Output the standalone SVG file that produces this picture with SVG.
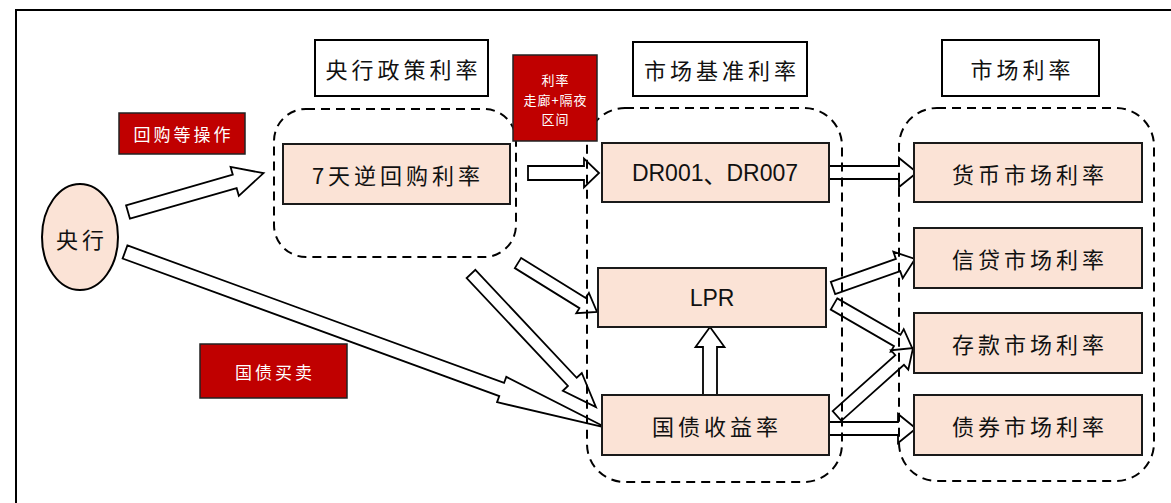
<svg xmlns="http://www.w3.org/2000/svg" width="1171" height="503" viewBox="0 0 1171 503">
<style>
.frame{fill:none;stroke:#000;stroke-width:2}
.title{fill:#fff;stroke:#000;stroke-width:2}
.peach{fill:#FBE3D6;stroke:#1a1a1a;stroke-width:2}
.red{fill:#C00000;stroke:#222;stroke-width:1.5}
.dash{fill:none;stroke:#000;stroke-width:2;stroke-dasharray:9 6}
.arr{fill:#fff;stroke:#000;stroke-width:1.8;stroke-linejoin:miter}
.cn{font-family:"Noto Sans CJK SC","Noto Sans",sans-serif;fill:#111;text-anchor:middle;dominant-baseline:central}
.t22{font-size:22px;letter-spacing:4px}
.w17{font-size:17px;letter-spacing:3px;fill:#fff}
.w13{font-size:13px;letter-spacing:1px;fill:#fff}
.lat{font-family:"Liberation Sans",Arial,sans-serif;font-size:23px;fill:#111;text-anchor:middle;dominant-baseline:central}
</style>
<rect x="0" y="0" width="1171" height="503" fill="#fff"/>
<rect class="frame" x="16" y="10" width="1200" height="600"/>

<g id="connectors">
  <polygon class="arr" transform="translate(128,212) rotate(-16)" points="0,-7 111,-7 111,-15 141,0 111,15 111,7 0,7"/>
  <polygon class="arr" transform="translate(528,173)" points="0,-7 56,-7 56,-14.5 71,0 56,14.5 56,7 0,7"/>
  <polygon class="arr" transform="translate(829,172.5)" points="0,-6.5 70,-6.5 70,-14.5 88,0 70,14.5 70,6.5 0,6.5"/>
  <polygon class="arr" transform="translate(518,263) rotate(31.8)" points="0,-6 76,-6 76,-12 93,0 76,12 76,6 0,6"/>
  <polygon class="arr" transform="translate(471,274) rotate(46.8)" points="0,-6 148,-6 148,-13 182.5,0 148,13 148,6 0,6"/>
  <polygon class="arr" transform="translate(125,252) rotate(20.06)" points="0,-7 401,-7 401,-13.5 513,0 401,13.5 401,7 0,7"/>
  <polygon class="arr" transform="translate(710,395) rotate(-90)" points="0,-7 48,-7 48,-14.5 68,0 48,14.5 48,7 0,7"/>
  <polygon class="arr" transform="translate(833,288) rotate(-19.5)" points="0,-6.5 69,-6.5 69,-14 87,0 69,14 69,6.5 0,6.5"/>
  <polygon class="arr" transform="translate(834,304) rotate(30)" points="0,-6.5 73,-6.5 73,-13 91,0 73,13 73,6.5 0,6.5"/>
  <polygon class="arr" transform="translate(837,416) rotate(-41.8)" points="0,-6.5 84,-6.5 84,-13 102,0 84,13 84,6.5 0,6.5"/>
  <polygon class="arr" transform="translate(829,428.5)" points="0,-6.5 69,-6.5 69,-14.5 87,0 69,14.5 69,6.5 0,6.5"/>
</g>

<g id="group-policy"><rect class="dash" x="274" y="109" width="242" height="148" rx="32"/></g>
<g id="group-benchmark"><rect class="dash" x="587" y="108" width="255" height="374" rx="38"/></g>
<g id="group-market"><rect class="dash" x="899" y="108" width="255" height="373" rx="38"/></g>

<g id="title-policy"><rect class="title" x="315" y="40" width="173" height="56"/><text class="cn t22" x="403.5" y="68">央行政策利率</text></g>
<g id="title-benchmark"><rect class="title" x="633" y="42" width="174" height="54"/><text class="cn t22" x="722" y="69">市场基准利率</text></g>
<g id="title-market"><rect class="title" x="942" y="40" width="157" height="56"/><text class="cn t22" x="1022.5" y="68">市场利率</text></g>

<g id="label-repo"><rect class="red" x="119" y="113" width="126" height="41"/><text class="cn w17" x="183.5" y="133.5">回购等操作</text></g>
<g id="label-corridor"><rect class="red" x="513" y="55" width="84" height="86"/>
  <text class="cn w13" x="555.5" y="79">利率</text>
  <text class="cn w13" x="555.5" y="99">走廊+隔夜</text>
  <text class="cn w13" x="555.5" y="118">区间</text></g>
<g id="label-bond-trade"><rect class="red" x="200" y="344" width="147" height="54"/><text class="cn w17" x="275" y="371">国债买卖</text></g>

<g id="node-pboc"><ellipse cx="80" cy="237" rx="38" ry="53" fill="#FBE3D6" stroke="#000" stroke-width="2"/><text class="cn t22" x="82" y="238">央行</text></g>

<g id="node-repo7d"><rect class="peach" x="283" y="144" width="227" height="60"/><text class="cn t22" x="398" y="174">7天逆回购利率</text></g>
<g id="node-dr"><rect class="peach" x="602" y="143" width="227" height="59"/><text class="lat" x="715" y="173">DR001<tspan font-family="Noto Sans CJK SC">、</tspan>DR007</text></g>
<g id="node-lpr"><rect class="peach" x="598" y="268" width="228" height="59"/><text class="lat" x="712" y="298">LPR</text></g>
<g id="node-gov-yield"><rect class="peach" x="602" y="395" width="227" height="60"/><text class="cn t22" x="717" y="425">国债收益率</text></g>

<g id="node-money"><rect class="peach" x="914" y="143" width="228" height="59"/><text class="cn t22" x="1030" y="173">货币市场利率</text></g>
<g id="node-credit"><rect class="peach" x="914" y="228" width="228" height="60"/><text class="cn t22" x="1030" y="258">信贷市场利率</text></g>
<g id="node-deposit"><rect class="peach" x="914" y="313" width="228" height="60"/><text class="cn t22" x="1030" y="343">存款市场利率</text></g>
<g id="node-bond"><rect class="peach" x="914" y="395" width="228" height="60"/><text class="cn t22" x="1030" y="425">债券市场利率</text></g>
</svg>
